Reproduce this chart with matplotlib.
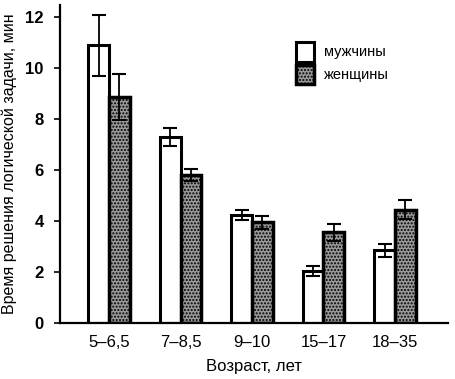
import matplotlib.pyplot as plt
import numpy as np

plt.rcParams['font.family'] = ['Liberation Sans Narrow', 'Liberation Sans', 'DejaVu Sans']
plt.rcParams['hatch.linewidth'] = 1.0

categories = ['5\u20136,5', '7\u20138,5', '9\u201310', '15\u201317', '18\u201335']
men = [10.9, 7.3, 4.25, 2.05, 2.85]
men_err = [1.2, 0.35, 0.2, 0.2, 0.25]
women = [8.85, 5.8, 3.95, 3.55, 4.45]
women_err = [0.9, 0.25, 0.25, 0.35, 0.38]

fig = plt.figure(figsize=(4.56, 3.79), dpi=100)
ax = fig.add_axes([0.132, 0.148, 0.85, 0.839])

x = np.arange(len(categories))
w = 0.29

ax.bar(x - w / 2, men, w, color='white', edgecolor='black', linewidth=2.2,
       yerr=men_err, error_kw=dict(ecolor='black', elinewidth=1.3, capsize=5, capthick=1.5),
       label='мужчины')
ax.bar(x + w / 2, women, w, color='#9a9a9a', edgecolor='black', linewidth=2.5,
       hatch='.....', yerr=women_err,
       error_kw=dict(ecolor='black', elinewidth=1.3, capsize=5, capthick=1.5),
       label='женщины')

ax.set_xlim(-0.685, 4.74)
ax.set_ylim(0, 12.48)
ax.set_yticks([0, 2, 4, 6, 8, 10, 12])
ax.set_xticks(x)
ax.set_xticklabels(categories)
ax.tick_params(axis='x', length=0, pad=9, labelsize=12)
ax.tick_params(axis='y', length=4, width=1.2, direction='out', pad=8, labelsize=12)
for lbl in ax.get_yticklabels():
    lbl.set_fontweight('bold')

ax.spines['top'].set_visible(False)
ax.spines['right'].set_visible(False)
ax.spines['left'].set_linewidth(1.6)
ax.spines['bottom'].set_linewidth(1.6)

ax.set_xlabel('Возраст, лет', fontsize=12, labelpad=6)
ax.set_ylabel('Время решения логической задачи, мин', fontsize=11.5, labelpad=6,
              fontweight='medium')

leg = ax.legend(loc='upper left', bbox_to_anchor=(0.575, 0.925), frameon=False,
                fontsize=10.5, handlelength=1.2, handleheight=1.7,
                handletextpad=0.7, labelspacing=0.2)

fig.savefig('out.png', dpi=100)
